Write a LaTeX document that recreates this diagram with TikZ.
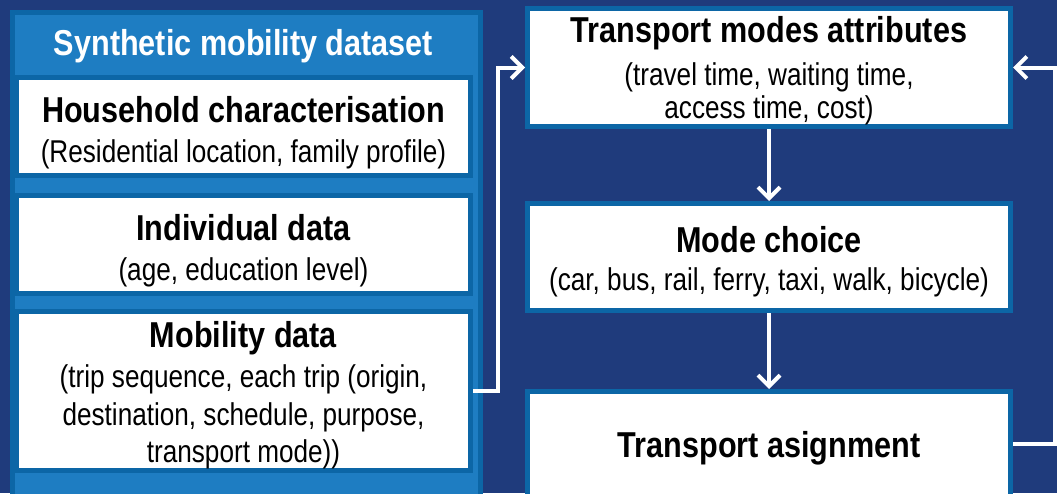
\documentclass[tikz,border=0pt]{standalone}
\usepackage{fontspec}
\setmainfont{Liberation Sans}[FakeStretch=0.83]
\newfontfamily\headfont{Liberation Sans}[FakeStretch=0.85]
\usetikzlibrary{arrows.meta}
\definecolor{navy}{RGB}{31,59,124}
\definecolor{panelblue}{RGB}{30,125,194}
\definecolor{edgeblue}{RGB}{12,102,166}
\tikzset{
  box/.style={rectangle, draw=edgeblue, line width=5pt, fill=white, inner sep=0pt},
  head/.style={anchor=base, inner sep=0pt, font=\headfont\fontsize{36}{40}\selectfont\bfseries},
  body/.style={anchor=base, inner sep=0pt, font=\fontsize{31.5}{36}\selectfont},
  flow/.style={draw=white, line width=4pt, -{Straight Barb[length=11pt,width=22pt]}},
}
\begin{document}
\begin{tikzpicture}[x=1pt,y=-1pt]
\useasboundingbox (0,0) rectangle (1057,493);
\fill[navy] (0,0) rectangle (1057,493);
\begin{scope}
\clip (0,0) rectangle (1057,493);
% left panel
\node[rectangle, draw=edgeblue, fill=panelblue, line width=5pt, inner sep=0pt,
      minimum width=468pt, minimum height=560pt, anchor=north west] (panel) at (9.5,9.5) {};
\node[head, text=white] (ttl) at (243.5,55) {Synthetic mobility dataset};
% left boxes
\node[box, minimum width=454pt, minimum height=98pt] (hh) at (243.5,126.5) {};
\node[box, minimum width=454pt, minimum height=98pt] (ind) at (243.5,244.5) {};
\node[box, minimum width=454pt, minimum height=159pt] (mob) at (243.5,391) {};
% right boxes
\node[box, minimum width=483pt, minimum height=118pt] (attr) at (769,67.5) {};
\node[box, minimum width=483pt, minimum height=107pt] (mode) at (769,257) {};
\node[box, minimum width=483pt, minimum height=160pt] (asg) at (769,471.5) {};
% texts
\node[head] (hht) at (243.5,122) {Household characterisation};
\node[body] (hhb) at (243.5,162) {(Residential location, family profile)};
\node[head] (indt) at (243.5,240) {Individual data};
\node[body] (indb) at (243.5,280) {(age, education level)};
\node[head] (mobt) at (243.5,347) {Mobility data};
\node[body] (mob1) at (243.5,387) {(trip sequence, each trip (origin,};
\node[body] (mob2) at (243.5,425) {destination, schedule, purpose,};
\node[body] (mob3) at (243.5,462) {transport mode))};
\node[head] (attrt) at (769,42) {Transport modes attributes};
\node[body] (attr1) at (769,85) {(travel time, waiting time,};
\node[body] (attr2) at (769,118) {access time, cost)};
\node[head] (modet) at (769,252) {Mode choice};
\node[body] (modeb) at (769,290) {(car, bus, rail, ferry, taxi, walk, bicycle)};
\node[head] (asgt) at (769,457) {Transport asignment};
% connectors
\coordinate (lc) at (498,391);
\coordinate (rc) at (1055,444);
\draw[flow] (mob.east) -- (lc) -- (lc |- attr.west) -- (attr.west);
\draw[flow] (asg.east |- rc) -- (rc) -- (rc |- attr.east) -- (attr.east);
\draw[flow] (attr.south) -- (mode.north);
\draw[flow] (mode.south) -- (asg.north);
\end{scope}
\end{tikzpicture}
\end{document}
